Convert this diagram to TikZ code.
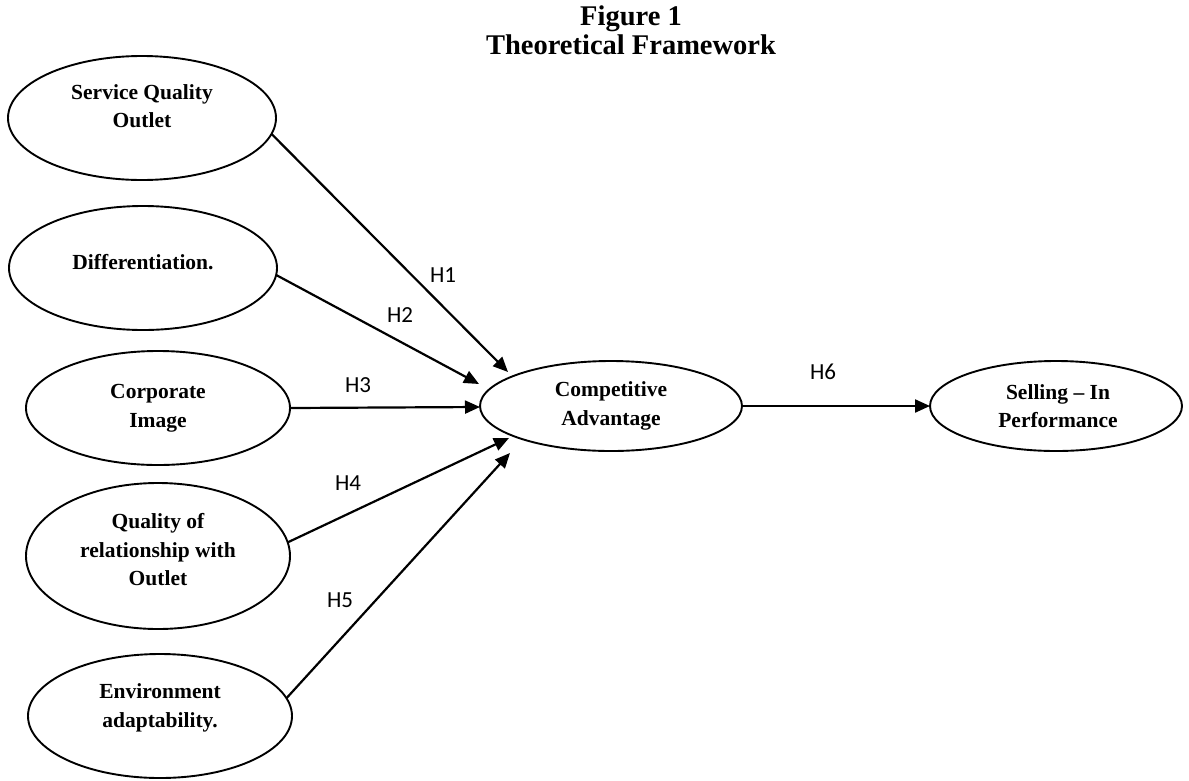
\documentclass[tikz,border=0pt]{standalone}
\usepackage{fontspec}
\setmainfont{Liberation Serif}
\newfontfamily\hypfont{Carlito}
\usetikzlibrary{shapes.geometric,arrows.meta}
\begin{document}
\begin{tikzpicture}[x=1pt,y=-1pt,
  construct/.style={ellipse, draw, line width=1.9pt, inner sep=0pt, outer sep=0pt},
  ctext/.style={align=center, inner sep=0pt, font=\fontsize{21.5}{28.5}\selectfont\bfseries},
  hyp/.style={inner sep=0pt, font=\hypfont\fontsize{23}{24}\selectfont},
  link/.style={line width=2.2pt, -{Triangle[length=15pt,width=13pt]}},
  titletext/.style={align=center, inner sep=0pt, font=\fontsize{28.5}{29}\selectfont\bfseries}
]
\useasboundingbox (0,0) rectangle (1189,780);

% title
\node[titletext] (title) at (631,30) {Figure 1\\Theoretical Framework};

% exogenous constructs
\node[construct, minimum width=268pt, minimum height=124pt] (sq) at (142,118) {};
\node[ctext] (sqt) at (142,106) {Service Quality\\Outlet};

\node[construct, minimum width=268pt, minimum height=124pt] (df) at (143,268) {};
\node[ctext] (dft) at (143,262) {Differentiation.};

\node[construct, minimum width=264pt, minimum height=114pt] (ci) at (158,408) {};
\node[ctext] (cit) at (158,408) {Corporate\\Image};

\node[construct, minimum width=264pt, minimum height=146pt] (qr) at (158,556) {};
\node[ctext] (qrt) at (158,550) {Quality of\\relationship with\\Outlet};

\node[construct, minimum width=264pt, minimum height=124pt] (ea) at (160,716) {};
\node[ctext] (eat) at (160,708) {Environment\\adaptability.};

% mediator and outcome
\node[construct, minimum width=262pt, minimum height=90pt] (ca) at (611,406) {};
\node[ctext] (cat) at (611,406) {Competitive\\Advantage};

\node[construct, minimum width=252pt, minimum height=90pt] (sp) at (1056,406) {};
\node[ctext] (spt) at (1058,406) {Selling -- In\\Performance};

% arrow ends near the mediator
\coordinate (t1) at (508,372);
\coordinate (t2) at (479,384);
\coordinate (t3) at (480,407);
\coordinate (t4) at (509,438);
\coordinate (t5) at (510,453);

% hypothesised paths
\draw[link] (sq.-7.5) -- (t1);
\draw[link] (df.-3.9) -- (t2);
\draw[link] (ci.east) -- (t3);
\draw[link] (qr.6.9) -- (t4);
\draw[link] (ea.8) -- (t5);
\draw[link] (ca.east) -- (sp.west);

% hypothesis labels
\node[hyp] (h1) at (443,275) {H1};
\node[hyp] (h2) at (400,315) {H2};
\node[hyp] (h3) at (358,385) {H3};
\node[hyp] (h4) at (348,483) {H4};
\node[hyp] (h5) at (340,600) {H5};
\node[hyp] (h6) at (823,372) {H6};
\end{tikzpicture}
\end{document}
